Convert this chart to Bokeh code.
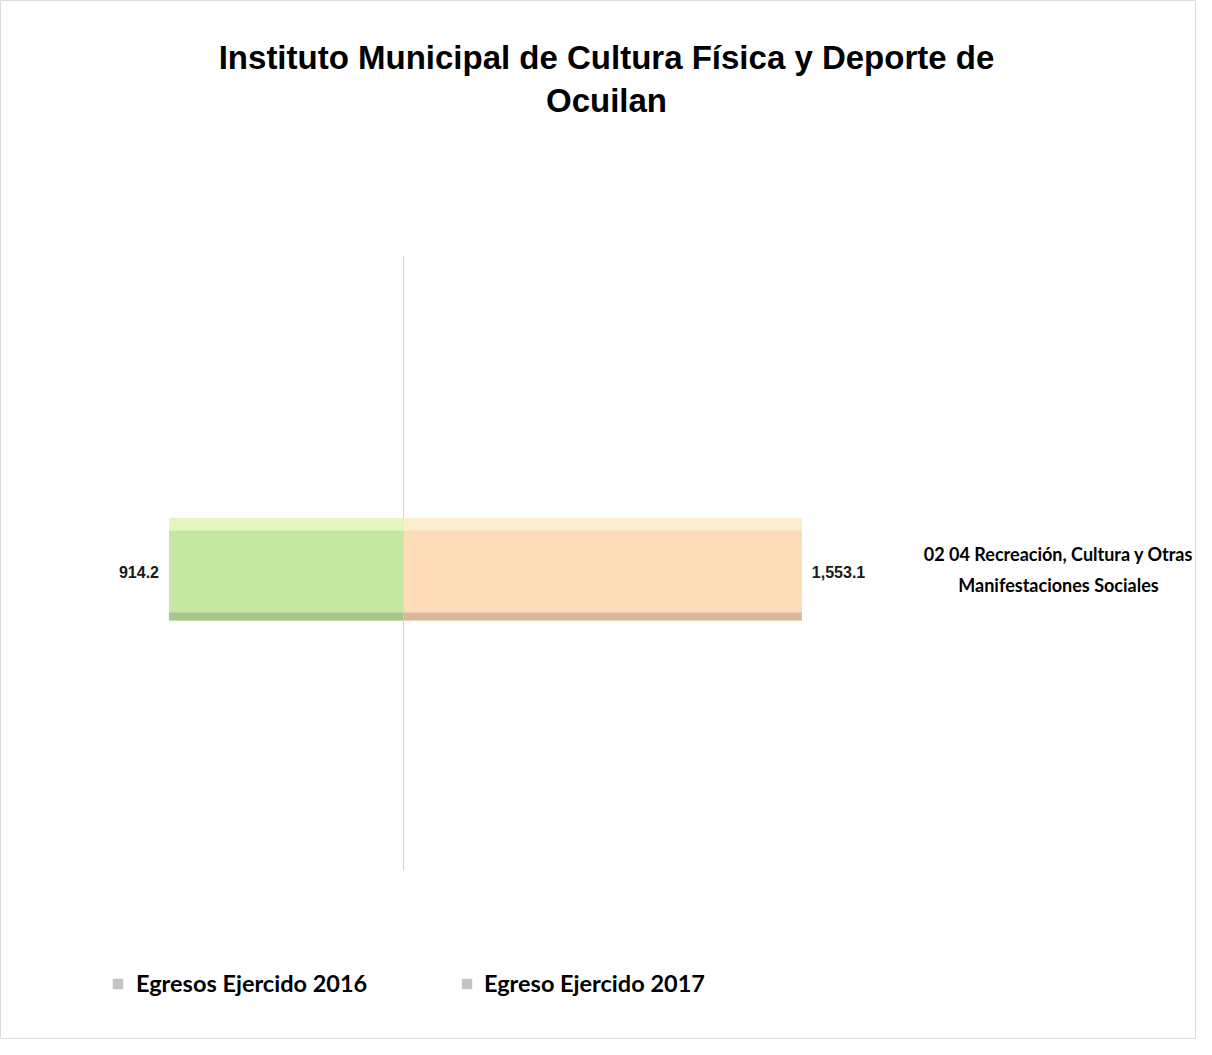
from bokeh.plotting import figure
from bokeh.models import Range1d, Label, Legend, LegendItem, ColumnDataSource
from bokeh.core.properties import value
from bokeh.embed import file_html
from bokeh.resources import INLINE

# ---- data ----
categories = ["02 04 Recreación, Cultura y Otras\nManifestaciones Sociales"]
cat_pos = [0]
egresos_2016 = [914.2]
egreso_2017 = [1553.1]
series_names = ["Egresos Ejercido 2016", "Egreso Ejercido 2017"]
title_lines = ["Instituto Municipal de Cultura Física y Deporte de", "Ocuilan"]

W, H = 1196, 1039
K = 0.2565  # px per unit
AX = 403    # x position of the zero axis (px)
p = figure(width=W, height=H, output_backend="svg", toolbar_location=None,
           x_range=Range1d(-AX / K, (W - AX) / K), y_range=Range1d(-470, 569),
           min_border=0)
p.axis.visible = False
p.grid.visible = False
p.outline_line_color = "#dcdcdc"
p.background_fill_color = "white"

src = ColumnDataSource(dict(
    y=cat_pos,
    left16=[-v for v in egresos_2016],
    right17=egreso_2017,
    zero=[0] * len(cat_pos),
    y_top=[c + 45 for c in cat_pos],
    y_bot=[c - 47 for c in cat_pos],
    lab16=[f"{v:,.1f}" for v in egresos_2016],
    lab17=[f"{v:,.1f}" for v in egreso_2017],
    cat=categories,
))

# axis line
p.segment(x0=0, y0=-301, x1=0, y1=314, line_color="#d0d0d0", line_width=1)

# 2016 bars (left)
p.hbar(y="y", left="left16", right="zero", height=102, source=src,
       fill_color="#c6e7a2", line_color=None)
p.hbar(y="y_top", left="left16", right="zero", height=12, source=src,
       fill_color="#e4f5c0", line_color=None)
p.hbar(y="y_bot", left="left16", right="zero", height=8, source=src,
       fill_color="#a9c68c", line_color=None)

# 2017 bars (right)
p.hbar(y="y", left="zero", right="right17", height=102, source=src,
       fill_color="#fbdbb8", line_color=None)
p.hbar(y="y_top", left="zero", right="right17", height=12, source=src,
       fill_color="#fdedcf", line_color=None)
p.hbar(y="y_bot", left="zero", right="right17", height=8, source=src,
       fill_color="#d9b79c", line_color=None)

# value labels
p.text(x="left16", y="y", text="lab16", source=src, text_align="right",
       text_baseline="middle", x_offset=-10, y_offset=2, text_font=value("Liberation Sans"),
       text_font_style="bold", text_font_size="16px", text_color="#1a1a1a")
p.text(x="right17", y="y", text="lab17", source=src, text_align="left",
       text_baseline="middle", x_offset=10, y_offset=2, text_font=value("Liberation Sans"),
       text_font_style="bold", text_font_size="16px", text_color="#1a1a1a")

# category label
p.text(x=(1058 - AX) / K, y="y", text="cat", source=src, text_align="center",
       text_baseline="middle", text_line_height=1.4, text_font=value("Lato"),
       text_font_style="bold", text_font_size="18px", text_color="#000000")

# title
for t, yy in zip(title_lines, [982, 939]):
    p.add_layout(Label(x=606, y=yy, x_units="screen", y_units="screen", text=t,
                       text_align="center", text_baseline="middle",
                       text_font="Liberation Sans", text_font_style="bold",
                       text_font_size="33px", text_color="#000000"))

# legend (gray icons as in the reference)
nan = float("nan")
dummy = ColumnDataSource(dict(x=[nan], y=[nan]))
r1 = p.rect(x="x", y="y", width=1, height=1, source=dummy, fill_color="#c4c4c4", line_color=None)
r2 = p.rect(x="x", y="y", width=1, height=1, source=dummy, fill_color="#c4c4c4", line_color=None)
for name, r, loc, st in zip(series_names, [r1, r2], [(111, 42), (460, 42)], [12, 11]):
    leg = Legend(items=[LegendItem(label=name, renderers=[r])], location=loc,
                 border_line_color=None, background_fill_alpha=0, padding=0, margin=0,
                 glyph_width=13, glyph_height=13, label_standoff=st,
                 label_text_font="Lato", label_text_font_style="bold",
                 label_text_font_size="23.5px", label_text_color="#000000")
    p.add_layout(leg)

open("out.html", "w").write(file_html(p, INLINE))
